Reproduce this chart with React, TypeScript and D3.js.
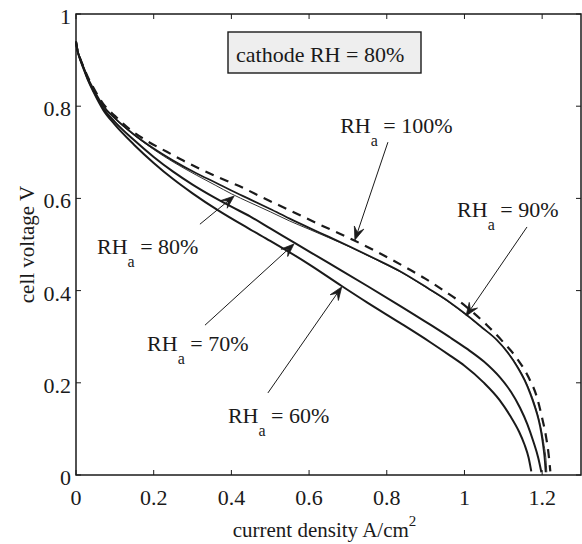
import React from "react";
import * as d3 from "d3";

// ---- data (current density A/cm^2, cell voltage V) ----
const rh100: [number, number][] = [
  [0, 0.94], [0.004, 0.92], [0.01, 0.905], [0.02, 0.884], [0.03, 0.864], [0.045, 0.84],
  [0.07, 0.805], [0.1, 0.779], [0.14, 0.749], [0.186, 0.723], [0.234, 0.701], [0.276, 0.682],
  [0.319, 0.664], [0.366, 0.646], [0.414, 0.629], [0.495, 0.596], [0.543, 0.577], [0.628, 0.543],
  [0.675, 0.525], [0.718, 0.508], [0.766, 0.488], [0.813, 0.467], [0.856, 0.447], [0.899, 0.426],
  [0.95, 0.398], [0.985, 0.378], [1.02, 0.354], [1.058, 0.325], [1.1, 0.288], [1.135, 0.253],
  [1.165, 0.212], [1.186, 0.17], [1.199, 0.127], [1.21, 0.083], [1.217, 0.042], [1.221, 0.008],
];
const rh90: [number, number][] = [
  [0, 0.94], [0.004, 0.92], [0.01, 0.905], [0.02, 0.883], [0.03, 0.862], [0.045, 0.837],
  [0.07, 0.801], [0.1, 0.774], [0.15, 0.738], [0.2, 0.708], [0.25, 0.682], [0.311, 0.654],
  [0.36, 0.634], [0.4, 0.617], [0.448, 0.598], [0.5, 0.577], [0.55, 0.556], [0.603, 0.535],
  [0.65, 0.517], [0.706, 0.495], [0.77, 0.469], [0.834, 0.442], [0.912, 0.402], [0.96, 0.376],
  [1.006, 0.347], [1.045, 0.32], [1.083, 0.293], [1.11, 0.267], [1.135, 0.236], [1.155, 0.205],
  [1.169, 0.177], [1.181, 0.148], [1.191, 0.119], [1.198, 0.09], [1.203, 0.061], [1.207, 0.03],
  [1.209, 0.006],
];
const rh80: [number, number][] = [
  [0, 0.94], [0.004, 0.92], [0.01, 0.905], [0.02, 0.883], [0.03, 0.861], [0.045, 0.836],
  [0.07, 0.8], [0.1, 0.773], [0.15, 0.737], [0.2, 0.706], [0.25, 0.679], [0.311, 0.65],
  [0.36, 0.628], [0.4, 0.61], [0.448, 0.591], [0.5, 0.571], [0.55, 0.551], [0.603, 0.532],
  [0.65, 0.515], [0.706, 0.494], [0.77, 0.468], [0.834, 0.441], [0.912, 0.401], [0.96, 0.375],
  [1.006, 0.346], [1.045, 0.32], [1.083, 0.294], [1.11, 0.268], [1.135, 0.238], [1.155, 0.208],
  [1.169, 0.181], [1.181, 0.153], [1.191, 0.124], [1.199, 0.094], [1.205, 0.064], [1.21, 0.032],
  [1.212, 0.006],
];
const rh70: [number, number][] = [
  [0, 0.94], [0.004, 0.92], [0.01, 0.904], [0.02, 0.882], [0.03, 0.86], [0.045, 0.834],
  [0.07, 0.796], [0.1, 0.766], [0.15, 0.726], [0.2, 0.69], [0.25, 0.658], [0.3, 0.63],
  [0.35, 0.605], [0.4, 0.582], [0.448, 0.561], [0.5, 0.535], [0.564, 0.503], [0.65, 0.46],
  [0.75, 0.41], [0.834, 0.367], [0.912, 0.326], [0.96, 0.3], [1.006, 0.274], [1.05, 0.246],
  [1.092, 0.211], [1.12, 0.18], [1.143, 0.146], [1.162, 0.11], [1.178, 0.071], [1.19, 0.037],
  [1.198, 0.006],
];
const rh60: [number, number][] = [
  [0, 0.94], [0.004, 0.92], [0.01, 0.903], [0.02, 0.88], [0.03, 0.858], [0.045, 0.831],
  [0.07, 0.792], [0.1, 0.76], [0.15, 0.716], [0.2, 0.677], [0.25, 0.642], [0.3, 0.611],
  [0.366, 0.574], [0.448, 0.533], [0.5, 0.508], [0.6, 0.457], [0.684, 0.41], [0.75, 0.374],
  [0.834, 0.33], [0.912, 0.288], [0.963, 0.259], [1.0, 0.237], [1.049, 0.201], [1.09, 0.163],
  [1.118, 0.128], [1.14, 0.095], [1.155, 0.065], [1.165, 0.038], [1.172, 0.008],
];

const xTicks = [0, 0.2, 0.4, 0.6, 0.8, 1, 1.2];
const xTickLabels = ["0", "0.2", "0.4", "0.6", "0.8", "1", "1.2"];
const yTicks = [0, 0.2, 0.4, 0.6, 0.8, 1];
const yTickLabels = ["0", "0.2", "0.4", "0.6", "0.8", "1"];

const annoLabels = ["100%", "90%", "80%", "70%", "60%"];
// label anchor (data coords), arrow start, arrow tip (data coords)
const annoText: [number, number][] = [[0.68, 0.742], [0.981, 0.56], [0.054, 0.479], [0.183, 0.269], [0.391, 0.113]];
const annoFrom: [number, number][] = [[0.803, 0.722], [1.161, 0.538], [0.319, 0.544], [0.332, 0.325], [0.494, 0.178]];
const annoTip: [number, number][] = [[0.718, 0.51], [1.004, 0.345], [0.407, 0.605], [0.561, 0.501], [0.684, 0.408]];

const ts = { fontFamily: '"Times New Roman"' };

export default function App() {
  const W = 582, H = 544;
  const m = { left: 76, top: 14, right: 581, bottom: 475 };
  const x = d3.scaleLinear().domain([0, 1.3]).range([m.left, m.right]);
  const y = d3.scaleLinear().domain([0, 1]).range([m.bottom, m.top]);
  const line = d3.line<[number, number]>().x(d => x(d[0])).y(d => y(d[1])).curve(d3.curveMonotoneX);
  const ink = "#1a1a1a";
  const tl = 5;

  const arrow = (i: number) => {
    const x1 = x(annoFrom[i][0]), y1 = y(annoFrom[i][1]);
    const x2 = x(annoTip[i][0]), y2 = y(annoTip[i][1]);
    const dx = x1 - x2, dy = y1 - y2;
    const len = Math.hypot(dx, dy);
    const ux = dx / len, uy = dy / len;
    const nx = -uy, ny = ux;
    const L = 13, Wd = 5, N = 0.6 * L;
    const head = `M${x2},${y2} L${x2 + ux * L + nx * Wd},${y2 + uy * L + ny * Wd} L${x2 + ux * N},${y2 + uy * N} L${x2 + ux * L - nx * Wd},${y2 + uy * L - ny * Wd} Z`;
    return (
      <g key={"a" + i}>
        <line x1={x1} y1={y1} x2={x2 + ux * N} y2={y2 + uy * N} stroke={ink} strokeWidth={1} />
        <path d={head} fill={ink} stroke={ink} strokeWidth={0.8} />
      </g>
    );
  };

  return (
    <svg width={W} height={H} style={{ position: "absolute", left: 0, top: 0, background: "#fff" }}>
      <rect x={0} y={0} width={W} height={H} fill="#fff" />
      {/* curves */}
      <path d={line(rh60) || ""} fill="none" stroke={ink} strokeWidth={2} />
      <path d={line(rh70) || ""} fill="none" stroke={ink} strokeWidth={2} />
      <path d={line(rh80) || ""} fill="none" stroke="#333" strokeWidth={1} />
      <path d={line(rh90) || ""} fill="none" stroke={ink} strokeWidth={1.8} />
      <path d={line(rh100) || ""} fill="none" stroke={ink} strokeWidth={2.2} strokeDasharray="9,7" />

      {/* frame */}
      <rect x={m.left} y={m.top} width={m.right - m.left} height={m.bottom - m.top} fill="none" stroke={ink} strokeWidth={1.5} />
      {xTicks.map((t, i) => (
        <g key={"xt" + i}>
          <line x1={x(t)} x2={x(t)} y1={m.bottom} y2={m.bottom - tl} stroke={ink} strokeWidth={1} />
          <line x1={x(t)} x2={x(t)} y1={m.top} y2={m.top + tl} stroke={ink} strokeWidth={1} />
          <text style={ts} x={x(t)} y={m.bottom + 30} textAnchor="middle" fontSize={22} fill={ink}>{xTickLabels[i]}</text>
        </g>
      ))}
      {yTicks.map((t, i) => (
        <g key={"yt" + i}>
          <line x1={m.left} x2={m.left + tl} y1={y(t)} y2={y(t)} stroke={ink} strokeWidth={1} />
          <line x1={m.right} x2={m.right - tl} y1={y(t)} y2={y(t)} stroke={ink} strokeWidth={1} />
          <text style={ts} x={m.left - 5} y={y(t) + 10} textAnchor="end" fontSize={22} fill={ink}>{yTickLabels[i]}</text>
        </g>
      ))}

      {/* axis titles */}
      <text style={ts} x={(m.left + m.right) / 2 - 4} y={537} textAnchor="middle" fontSize={21} fill={ink}>
        current density A/cm<tspan fontSize={15} dy={-11}>2</tspan>
      </text>
      <text style={ts} transform={`translate(34,${(m.top + m.bottom) / 2}) rotate(-90)`} textAnchor="middle" fontSize={21} fill={ink}>
        cell voltage V
      </text>

      {/* legend box */}
      <rect x={228} y={32} width={193} height={41} fill="#eeeeee" stroke={ink} strokeWidth={1.4} />
      <text style={ts} x={236} y={62} fontSize={22} fill={ink}>cathode RH = 80%</text>

      {/* annotations */}
      {annoLabels.map((lab, i) => (
        <text style={ts} key={"t" + i} x={x(annoText[i][0])} y={y(annoText[i][1])} fontSize={22} fill={ink}>
          RH<tspan fontSize={16} dy={13}>a</tspan><tspan dy={-13}>{" = " + lab}</tspan>
        </text>
      ))}
      {annoLabels.map((_, i) => arrow(i))}
    </svg>
  );
}
